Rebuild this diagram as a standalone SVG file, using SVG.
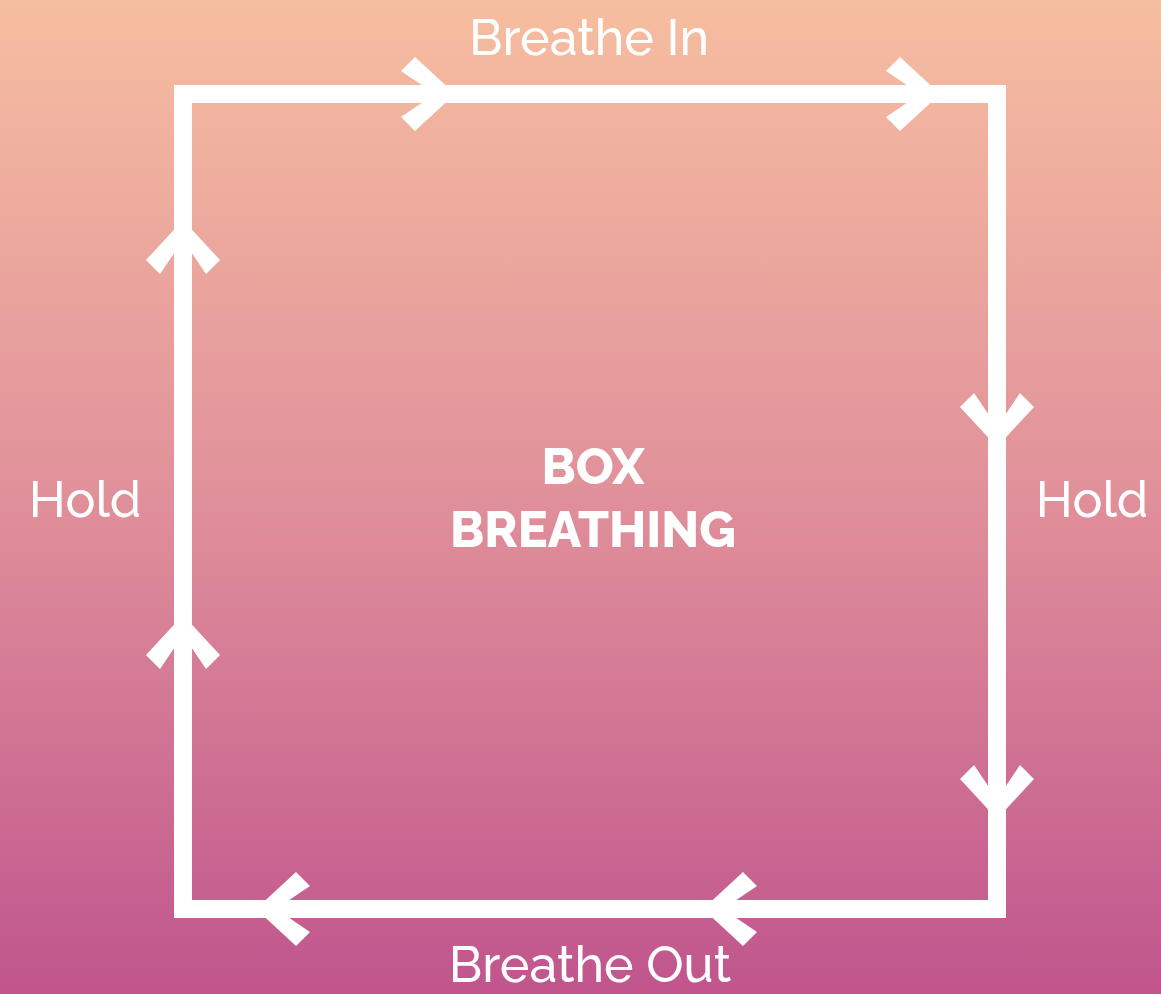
<svg xmlns="http://www.w3.org/2000/svg" width="1161" height="994" viewBox="0 0 1161 994">
<defs>
<linearGradient id="bg" x1="0" y1="0" x2="0" y2="1">
<stop offset="0" stop-color="#F6BEA0"/>
<stop offset="0.5" stop-color="#E0909A"/>
<stop offset="1" stop-color="#C0558D"/>
</linearGradient>
<path id="chev" d="M0,0 L-40,-37 L-54,-23 L-20,0 L-54,23 L-40,37 Z" fill="#FFFFFF"/>
<style>
.ln{fill:none;stroke:#FFFFFF;stroke-width:18;stroke-linejoin:miter;stroke-linecap:square}
.lbl{font-family:Raleway,Lato,"Liberation Sans",sans-serif;font-size:50px;font-weight:500;fill:#FFFFFF;text-anchor:middle}
.ttl{font-family:Raleway,Lato,"Liberation Sans",sans-serif;font-size:50px;font-weight:800;fill:#FFFFFF;text-anchor:middle}
</style>
</defs>
<rect width="1161" height="994" fill="url(#bg)"/>
<g id="connectors">
<rect class="ln" x="183" y="94" width="814" height="815"/>
<use href="#chev" transform="translate(455,94)"/>
<use href="#chev" transform="translate(940,94)"/>
<use href="#chev" transform="translate(997,447) rotate(90)"/>
<use href="#chev" transform="translate(997,819) rotate(90)"/>
<use href="#chev" transform="translate(256,909) rotate(180)"/>
<use href="#chev" transform="translate(703,909) rotate(180)"/>
<use href="#chev" transform="translate(183,220) rotate(-90)"/>
<use href="#chev" transform="translate(183,615) rotate(-90)"/>
</g>
<g id="label-breathe-in"><text class="lbl" x="589" y="55">Breathe In</text></g>
<g id="label-hold-left"><text class="lbl" x="85" y="517">Hold</text></g>
<g id="label-hold-right"><text class="lbl" x="1092" y="517">Hold</text></g>
<g id="label-breathe-out"><text class="lbl" x="590" y="982">Breathe Out</text></g>
<g id="title"><text class="ttl" x="593" y="484">BOX</text><text class="ttl" x="593" y="547">BREATHING</text></g>
</svg>
